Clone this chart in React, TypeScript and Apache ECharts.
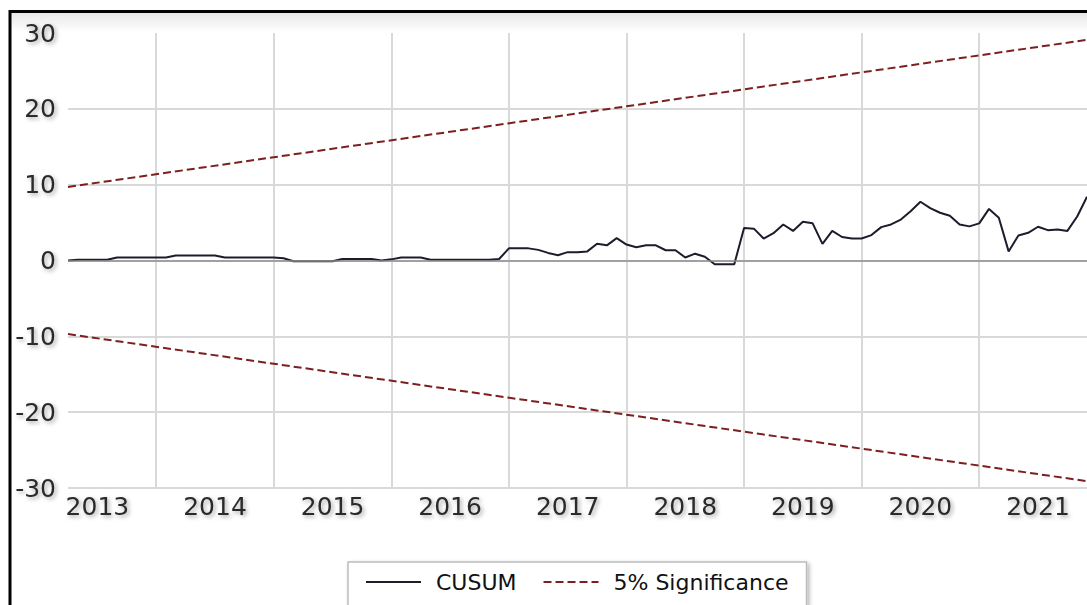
import React, { useEffect, useRef } from "react";
import * as echarts from "echarts";

// Monthly observations, 2013M04 .. 2021M12
const startYear = 2013;
const startMonth = 4;
const cusum = [
  0.0, 0.1, 0.1, 0.1, 0.1, 0.4, 0.4, 0.4, 0.4, 0.4,
  0.4, 0.65, 0.65, 0.65, 0.65, 0.65, 0.4, 0.4, 0.4, 0.4,
  0.4, 0.4, 0.3, -0.1, -0.1, -0.1, -0.1, -0.1, 0.2, 0.2,
  0.2, 0.2, 0.0, 0.15, 0.4, 0.4, 0.4, 0.1, 0.1, 0.1,
  0.1, 0.1, 0.1, 0.1, 0.2, 1.6, 1.6, 1.6, 1.4, 1.0,
  0.7, 1.1, 1.1, 1.2, 2.2, 2.0, 2.95, 2.1, 1.75, 2.0,
  2.0, 1.35, 1.35, 0.4, 0.9, 0.5, -0.5, -0.5, -0.5, 4.3,
  4.2, 2.9, 3.6, 4.75, 3.9, 5.1, 4.9, 2.2, 3.9, 3.1,
  2.9, 2.9, 3.35, 4.4, 4.75, 5.4, 6.5, 7.75, 6.9, 6.3,
  5.9, 4.75, 4.5, 4.9, 6.8, 5.65, 1.2, 3.3, 3.65, 4.45,
  4.0, 4.1, 3.9, 5.8, 8.4,
];
const upperBound = [9.7, 29.1]; // first and last observation
const lowerBound = [-9.7, -29.1];
const yTicks = [-30, -20, -10, 0, 10, 20, 30];
const seriesNames = ["CUSUM", "5% Significance"];

const months: string[] = cusum.map((_, i) => {
  const m0 = startMonth - 1 + i;
  const y = startYear + Math.floor(m0 / 12);
  const m = (m0 % 12) + 1;
  return `${y}M${String(m).padStart(2, "0")}`;
});
const monthOf = (i: number) => ((startMonth - 1 + i) % 12) + 1;

export default function App() {
  const ref = useRef<HTMLDivElement>(null);
  useEffect(() => {
    if (!ref.current) return;
    const chart = echarts.init(ref.current, null, { renderer: "svg" });
    const last = months.length - 1;
    const gridColors = yTicks.map((v) => (v === 30 ? "rgba(0,0,0,0)" : "#d9d9d9"));
    const labelShadow = {
      textShadowColor: "rgba(0,0,0,0.35)",
      textShadowBlur: 4,
      textShadowOffsetX: 2,
      textShadowOffsetY: 2,
    };
    chart.setOption({
      animation: false,
      backgroundColor: "#ffffff",
      graphic: [
        {
          type: "rect",
          shape: { x: 11, y: 12, width: 1200, height: 20 },
          style: {
            fill: new echarts.graphic.LinearGradient(0, 0, 0, 1, [
              { offset: 0, color: "rgba(0,0,0,0.10)" },
              { offset: 1, color: "rgba(0,0,0,0)" },
            ]),
          },
          silent: true,
          z: -1,
        },
        {
          type: "rect",
          shape: { x: 10, y: 11.5, width: 1200, height: 700 },
          style: { fill: "none", stroke: "#000", lineWidth: 3 },
          silent: true,
        },
      ],
      grid: { left: 68, right: 0, top: 33, bottom: 117, containLabel: false },
      legend: {
        left: 348,
        top: 562,
        data: seriesNames,
        itemWidth: 55,
        itemHeight: 10,
        itemGap: 26,
        padding: [9, 18, 14, 17],
        backgroundColor: "#fff",
        borderColor: "#bdbdbd",
        borderWidth: 1.5,
        shadowColor: "rgba(0,0,0,0.3)",
        shadowBlur: 4,
        shadowOffsetX: 2,
        shadowOffsetY: 2,
        itemStyle: { opacity: 0 },
        textStyle: {
          fontFamily: "DejaVu Sans",
          fontSize: 22,
          color: "#111",
          padding: [0, 0, 0, 10],
        },
      },
      xAxis: {
        type: "category",
        data: months,
        boundaryGap: false,
        axisLine: {
          show: true,
          lineStyle: {
            color: "#8c8c8c",
            width: 2,
            shadowColor: "rgba(0,0,0,0.35)",
            shadowBlur: 3,
            shadowOffsetY: 2,
          },
        },
        axisTick: { show: false },
        axisLabel: {
          interval: (i: number) => monthOf(i) === 7,
          formatter: (v: string) => v.slice(0, 4),
          fontFamily: "DejaVu Sans",
          fontSize: 25,
          color: "#2b2b2b",
          margin: 6,
          ...labelShadow,
        },
        splitLine: {
          show: true,
          interval: (i: number) => monthOf(i) === 1,
          lineStyle: { color: "#d9d9d9", width: 2 },
        },
      },
      yAxis: {
        type: "value",
        min: -30,
        max: 30,
        interval: 10,
        axisLine: { show: false },
        axisTick: { show: false },
        axisLabel: {
          fontFamily: "DejaVu Sans",
          fontSize: 25,
          color: "#2b2b2b",
          margin: 12,
          ...labelShadow,
        },
        splitLine: { show: true, lineStyle: { color: gridColors, width: 2 } },
      },
      series: [
        {
          name: seriesNames[0],
          type: "line",
          data: cusum,
          symbol: "none",
          lineStyle: { color: "#1c1c2c", width: 2 },
          itemStyle: { color: "#1c1c2c" },
          markLine: {
            silent: true,
            symbol: "none",
            label: { show: false },
            lineStyle: { color: "#8c8c8c", width: 1.5, type: "solid" },
            data: [{ yAxis: 0 }],
          },
          z: 3,
        },
        {
          name: seriesNames[1],
          type: "line",
          data: [
            [months[0], upperBound[0]],
            [months[last], upperBound[1]],
          ],
          symbol: "none",
          lineStyle: { color: "#7d1f1f", width: 2, type: [8, 4] },
          itemStyle: { color: "#7d1f1f" },
        },
        {
          name: seriesNames[1],
          type: "line",
          data: [
            [months[0], lowerBound[0]],
            [months[last], lowerBound[1]],
          ],
          symbol: "none",
          lineStyle: { color: "#7d1f1f", width: 2, type: [8, 4] },
          itemStyle: { color: "#7d1f1f" },
        },
      ],
    });
    return () => chart.dispose();
  }, []);
  return (
    <div
      ref={ref}
      style={{ position: "fixed", left: 0, top: 0, width: 1087, height: 605 }}
    />
  );
}
